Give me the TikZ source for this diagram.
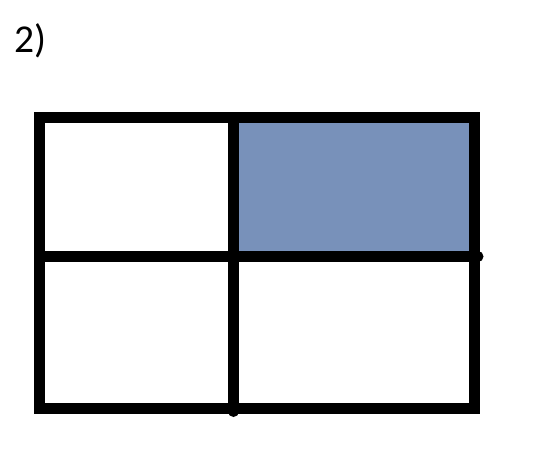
\documentclass[tikz,border=0pt]{standalone}
\usepackage{fontspec}
\setmainfont{Carlito}
\definecolor{cellblue}{RGB}{120,145,186}
\begin{document}
\begin{tikzpicture}[x=1pt,y=-1pt,
  gridline/.style={line width=11pt,black},
  outline/.style={gridline,line join=miter},
  divider/.style={gridline,line cap=round}]
\useasboundingbox (0,0) rectangle (537,457);
% corner points of the grid
\coordinate (tl) at (39,118);
\coordinate (br) at (474,408);
\coordinate (mtop) at (233.5,118);
\coordinate (mbot) at (233.5,411.5);
\coordinate (hl) at (45,256.5);
\coordinate (hr) at (478,256.5);
% shaded cell
\fill[cellblue] (mtop) rectangle (474,256.5);
% dividers
\draw[divider] (hl) -- (hr);
\draw[divider] (mtop) -- (mbot);
% outer frame
\draw[outline] (tl) rectangle (br);
% label
\node[anchor=base west,inner sep=0pt,font=\fontsize{39.5}{44}\selectfont] (lbl) at (14,53) {2)};
\end{tikzpicture}
\end{document}
